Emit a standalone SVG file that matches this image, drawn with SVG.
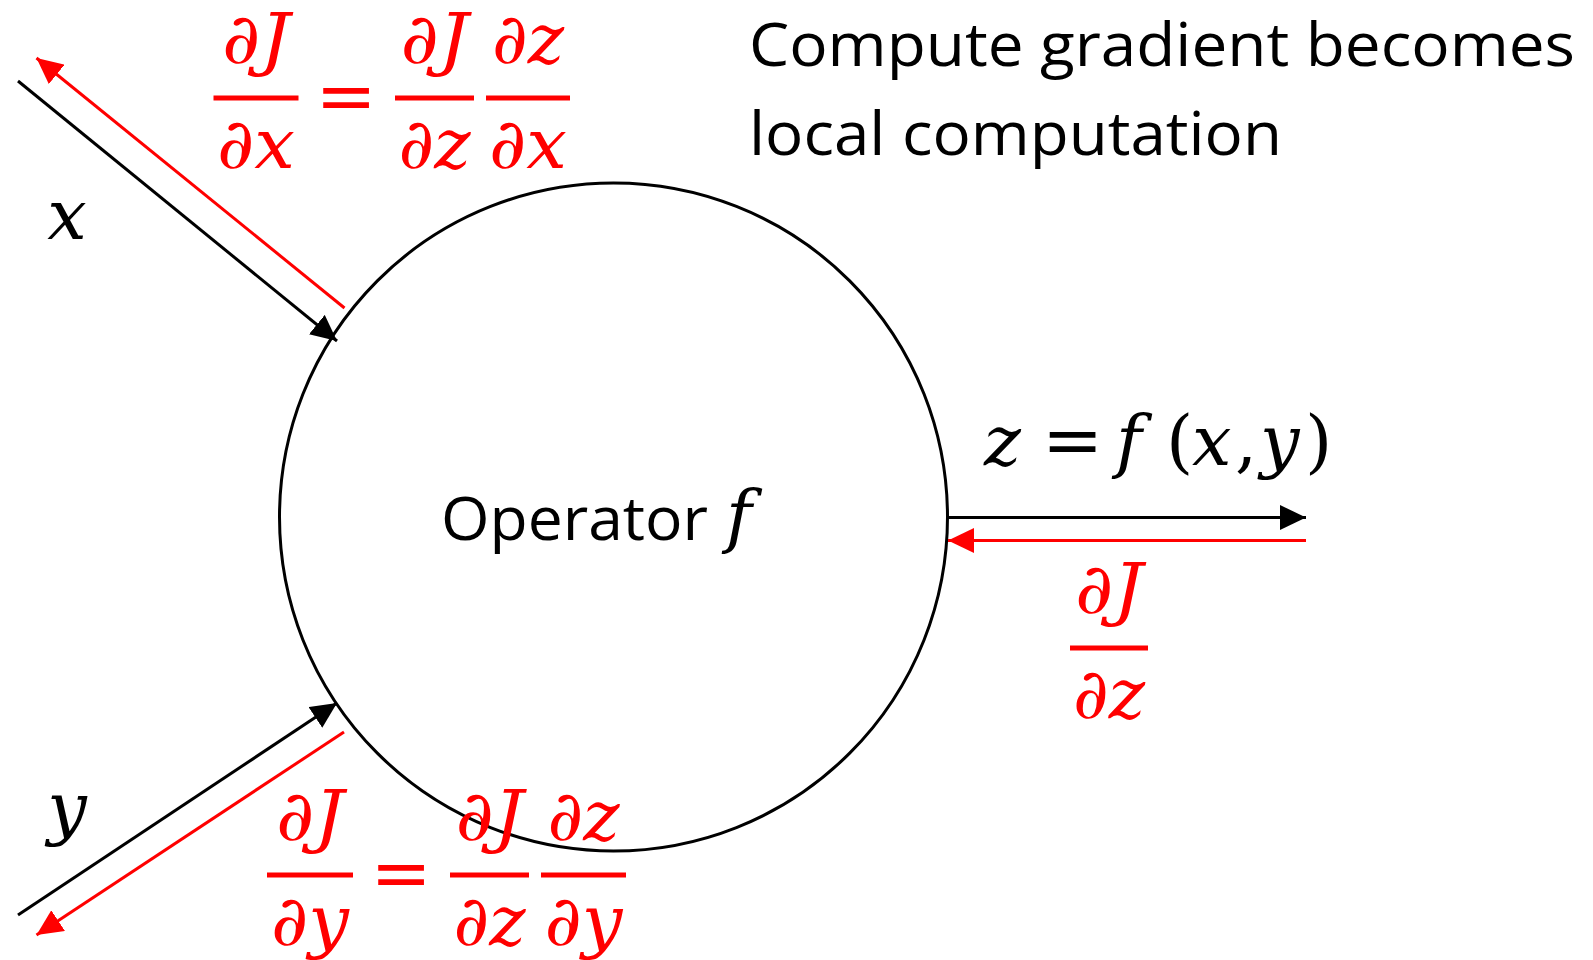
<svg xmlns="http://www.w3.org/2000/svg" width="1593" height="960" viewBox="0 0 1593 960">
<defs>
<style>
.ln{fill:none;stroke-width:3}
.blk{stroke:#000}
.red{stroke:#FF0000}
.m{font-family:"DejaVu Serif","Liberation Serif",serif;font-style:italic;font-size:70px}
.mu{font-family:"DejaVu Serif","Liberation Serif",serif;font-style:normal;font-size:70px}
.eq{font-family:"DejaVu Serif","Liberation Serif",serif;font-style:normal;font-size:73px}
.rt{fill:#FF0000}
.t{font-family:"Open Sans","Noto Sans",sans-serif;font-size:61px;fill:#000}
.bar{fill:#FF0000}
</style>
<marker id="ab" markerUnits="userSpaceOnUse" markerWidth="26" markerHeight="25" refX="26" refY="12.5" orient="auto" viewBox="0 0 26 25">
<path d="M0,0 L26,12.5 L0,25 z" fill="#000"/>
</marker>
<marker id="ar" markerUnits="userSpaceOnUse" markerWidth="26" markerHeight="25" refX="26" refY="12.5" orient="auto" viewBox="0 0 26 25">
<path d="M0,0 L26,12.5 L0,25 z" fill="#FF0000"/>
</marker>
</defs>
<rect width="1593" height="960" fill="#fff"/>

<g id="operator">
<circle cx="613.5" cy="517" r="334" fill="none" stroke="#000" stroke-width="3"/>
<text class="t" x="441" y="540" textLength="267" lengthAdjust="spacingAndGlyphs">Operator</text>
<text class="m" x="726" y="540">f</text>
</g>

<g id="connectors">
<path class="ln blk" d="M18,81 L337,341" marker-end="url(#ab)"/>
<path class="ln red" d="M344.5,308 L36.5,58" marker-end="url(#ar)"/>
<path class="ln blk" d="M18,915 L337,703" marker-end="url(#ab)"/>
<path class="ln red" d="M344,732 L36.5,935" marker-end="url(#ar)"/>
<path class="ln blk" d="M948,517.5 L1306,517.5" marker-end="url(#ab)"/>
<path class="ln red" d="M1306,540.5 L948,540.5" marker-end="url(#ar)"/>
</g>

<g id="label-x">
<text class="m" x="67" y="239" text-anchor="middle">x</text>
</g>
<g id="label-y">
<text class="m" x="67" y="832" text-anchor="middle">y</text>
</g>

<g id="label-z">
<text class="m" x="984" y="465">z<tspan class="eq" x="1042">=</tspan><tspan x="1116">f</tspan><tspan class="mu" x="1166">(</tspan><tspan x="1192">x</tspan><tspan class="mu" x="1235">,</tspan><tspan x="1260">y</tspan><tspan class="mu" x="1305">)</tspan></text>
</g>

<g id="grad-x">
<text class="m rt" x="256" y="63" text-anchor="middle" textLength="68" lengthAdjust="spacingAndGlyphs">∂J</text>
<rect class="bar" x="213.5" y="95.5" width="85" height="5"/>
<text class="m rt" x="256" y="168" text-anchor="middle" textLength="78" lengthAdjust="spacingAndGlyphs">∂x</text>
<text class="eq rt" x="346" y="121" text-anchor="middle">=</text>
<text class="m rt" x="434.5" y="63" text-anchor="middle" textLength="68" lengthAdjust="spacingAndGlyphs">∂J</text>
<rect class="bar" x="395" y="95.5" width="79" height="5"/>
<text class="m rt" x="434.5" y="168" text-anchor="middle" textLength="72" lengthAdjust="spacingAndGlyphs">∂z</text>
<text class="m rt" x="528" y="63" text-anchor="middle" textLength="72" lengthAdjust="spacingAndGlyphs">∂z</text>
<rect class="bar" x="486" y="95.5" width="84" height="5"/>
<text class="m rt" x="528" y="168" text-anchor="middle" textLength="78" lengthAdjust="spacingAndGlyphs">∂x</text>
</g>

<g id="grad-z">
<text class="m rt" x="1109" y="613" text-anchor="middle" textLength="68" lengthAdjust="spacingAndGlyphs">∂J</text>
<rect class="bar" x="1070" y="645.5" width="78" height="5"/>
<text class="m rt" x="1109" y="718" text-anchor="middle" textLength="72" lengthAdjust="spacingAndGlyphs">∂z</text>
</g>

<g id="grad-y">
<text class="m rt" x="310" y="840" text-anchor="middle" textLength="68" lengthAdjust="spacingAndGlyphs">∂J</text>
<rect class="bar" x="267" y="872.5" width="86" height="5"/>
<text class="m rt" x="310" y="945" text-anchor="middle" textLength="78" lengthAdjust="spacingAndGlyphs">∂y</text>
<text class="eq rt" x="401" y="898" text-anchor="middle">=</text>
<text class="m rt" x="489.5" y="840" text-anchor="middle" textLength="68" lengthAdjust="spacingAndGlyphs">∂J</text>
<rect class="bar" x="450" y="872.5" width="79" height="5"/>
<text class="m rt" x="489.5" y="945" text-anchor="middle" textLength="72" lengthAdjust="spacingAndGlyphs">∂z</text>
<text class="m rt" x="583.5" y="840" text-anchor="middle" textLength="72" lengthAdjust="spacingAndGlyphs">∂z</text>
<rect class="bar" x="541" y="872.5" width="85" height="5"/>
<text class="m rt" x="583.5" y="945" text-anchor="middle" textLength="78" lengthAdjust="spacingAndGlyphs">∂y</text>
</g>

<g id="caption">
<text class="t" x="749" y="66" textLength="826" lengthAdjust="spacingAndGlyphs">Compute gradient becomes</text>
<text class="t" x="749" y="155" textLength="533" lengthAdjust="spacingAndGlyphs">local computation</text>
</g>
</svg>
